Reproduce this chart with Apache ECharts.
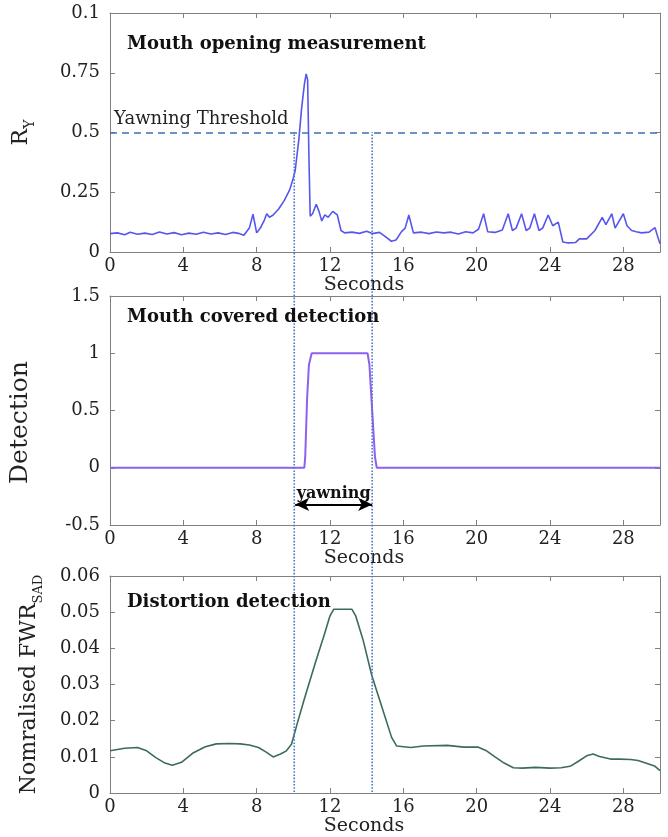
<!DOCTYPE html>
<html>
<head>
<meta charset="utf-8">
<script src="https://cdn.jsdelivr.net/npm/echarts@6/dist/echarts.min.js"></script>
<style>
  html, body { margin: 0; padding: 0; background: #fff; }
  #chart { width: 668px; height: 837px; }
</style>
</head>
<body>
<div id="chart"></div>
<script>
// mouth opening ratio R_Y over time
const mouthT = [0, 0.4, 0.8, 1.1, 1.5, 1.9, 2.3, 2.7, 3.1, 3.5, 3.9, 4.3, 4.7, 5.1, 5.5, 5.9, 6.3, 6.7, 7.0, 7.3,
  7.6, 7.8, 8.0, 8.2, 8.4, 8.55, 8.7, 8.9, 9.2, 9.5, 9.8, 10.0, 10.1, 10.3, 10.45, 10.6, 10.7, 10.78, 10.85, 10.92,
  11.05, 11.25, 11.4, 11.55, 11.72, 11.9, 12.15, 12.4, 12.6, 12.8, 13.2, 13.6, 14.0, 14.3, 14.7, 15.0, 15.35, 15.6,
  15.9, 16.1, 16.3, 16.55, 17.0, 17.4, 17.8, 18.2, 18.6, 19.0, 19.4, 19.8, 20.1, 20.38, 20.6, 21.0, 21.4, 21.72,
  21.95, 22.15, 22.45, 22.7, 22.9, 23.15, 23.4, 23.6, 23.9, 24.15, 24.45, 24.7, 25.0, 25.4, 25.6, 26.0, 26.45,
  26.85, 27.05, 27.37, 27.55, 28.0, 28.2, 28.45, 28.7, 29.0, 29.4, 29.73, 29.85, 30];
const mouthR = [0.077, 0.08, 0.072, 0.083, 0.074, 0.079, 0.073, 0.084, 0.075, 0.081, 0.072, 0.079, 0.074, 0.083, 0.075, 0.08, 0.073, 0.082, 0.078, 0.07,
  0.1, 0.158, 0.08, 0.1, 0.13, 0.16, 0.145, 0.155, 0.18, 0.215, 0.26, 0.31, 0.34, 0.47, 0.6, 0.7, 0.745, 0.72, 0.4, 0.15,
  0.16, 0.2, 0.17, 0.13, 0.155, 0.145, 0.17, 0.155, 0.09, 0.08, 0.083, 0.078, 0.087, 0.077, 0.082, 0.065, 0.045, 0.05,
  0.085, 0.1, 0.155, 0.08, 0.083, 0.077, 0.084, 0.08, 0.083, 0.075, 0.085, 0.08, 0.095, 0.16, 0.085, 0.082, 0.092, 0.16,
  0.09, 0.1, 0.16, 0.09, 0.1, 0.16, 0.09, 0.1, 0.155, 0.11, 0.125, 0.042, 0.038, 0.04, 0.055, 0.055, 0.09,
  0.145, 0.115, 0.16, 0.1, 0.16, 0.11, 0.09, 0.085, 0.08, 0.083, 0.102, 0.07, 0.035];
const ryTickLabels = ['0', '0.25', '0.5', '0.75', '0.1'];
const threshold = 0.5;

// mouth covered detection (0 / 1)
const coverT = [0, 10.6, 10.65, 10.75, 10.85, 11.0, 14.05, 14.15, 14.3, 14.45, 14.55, 30];
const coverD = [0, 0, 0.1, 0.6, 0.9, 1, 1, 0.9, 0.5, 0.1, 0, 0];

// normalised FWR_SAD distortion
const distT = [0, 0.8, 1.5, 2.0, 2.5, 3.0, 3.4, 3.9, 4.5, 5.2, 5.8, 6.5, 7.1, 7.6, 8.1, 8.5, 8.9, 9.3, 9.6, 9.9,
  10.2, 10.6, 11.2, 11.7, 12.0, 12.2, 13.2, 13.4, 13.8, 14.28, 14.73, 15.36, 15.64, 16.4, 17.1, 18.4, 19.3, 20.1,
  20.5, 21.0, 21.5, 22.0, 22.5, 23.2, 24.0, 24.6, 25.1, 25.55, 26.0, 26.35, 26.7, 27.3, 27.8, 28.4, 28.8, 29.3, 29.7, 30];
const distV = [0.0117, 0.0124, 0.0126, 0.0117, 0.0098, 0.0083, 0.0077, 0.0085, 0.011, 0.0128, 0.0136, 0.0137, 0.0136, 0.0133, 0.0126, 0.0114, 0.0100, 0.0108, 0.0116, 0.0135,
  0.019, 0.026, 0.036, 0.044, 0.049, 0.0508, 0.0508, 0.049, 0.0424, 0.0325, 0.0254, 0.0154, 0.013, 0.0126, 0.013, 0.0132, 0.0127, 0.0127,
  0.0118, 0.0100, 0.0083, 0.0070, 0.0069, 0.0071, 0.0069, 0.007, 0.0074, 0.0088, 0.0103, 0.0108, 0.0101, 0.0094, 0.0094, 0.0093, 0.0090, 0.0082, 0.0075, 0.0062];

// yawning interval (seconds)
const yawnStart = 10.05;
const yawnEnd = 14.3;
const arrowLevel = -0.32;

const zip = (xs, ys) => xs.map((x, i) => [x, ys[i]]);

const FONT = 'DejaVu Serif';
const frameColor = '#808080';
const labelColor = '#222';

function xBottom(g) {
  return {
    type: 'value', gridIndex: g, min: 0, max: 30, interval: 4,
    name: 'Seconds', nameLocation: 'middle', nameGap: 22,
    nameTextStyle: { fontFamily: FONT, fontSize: 19, color: labelColor, padding: [0, 42, 0, 0] },
    axisLine: { show: true, onZero: false, lineStyle: { color: frameColor, width: 1 } },
    axisTick: { show: true, inside: true, length: 5, lineStyle: { color: frameColor } },
    axisLabel: { fontFamily: FONT, fontSize: 18, color: labelColor, margin: 5, showMaxLabel: false },
    splitLine: { show: false }
  };
}
function xTop(g) {
  return {
    type: 'value', gridIndex: g, position: 'top', min: 0, max: 30, interval: 4,
    axisLine: { show: true, onZero: false, lineStyle: { color: frameColor, width: 1 } },
    axisTick: { show: true, inside: true, length: 5, lineStyle: { color: frameColor } },
    axisLabel: { show: false }, splitLine: { show: false }
  };
}
function yLeft(g, min, max, interval, name, rich, gap, formatter) {
  return {
    type: 'value', gridIndex: g, min: min, max: max, interval: interval,
    name: name, nameLocation: 'middle', nameGap: gap, nameRotate: 90,
    nameTextStyle: { fontFamily: FONT, color: labelColor, rich: rich },
    axisLine: { show: true, onZero: false, lineStyle: { color: frameColor, width: 1 } },
    axisTick: { show: true, inside: true, length: 5, lineStyle: { color: frameColor } },
    axisLabel: { fontFamily: FONT, fontSize: 18, color: labelColor, margin: 10, formatter: formatter },
    splitLine: { show: false }
  };
}
function yRight(g, min, max, interval) {
  return {
    type: 'value', gridIndex: g, position: 'right', min: min, max: max, interval: interval,
    axisLine: { show: true, onZero: false, lineStyle: { color: frameColor, width: 1 } },
    axisTick: { show: true, inside: true, length: 5, lineStyle: { color: frameColor } },
    axisLabel: { show: false }, splitLine: { show: false }
  };
}

const titleStyle = { fontFamily: FONT, fontSize: 18, fontWeight: 'bold', color: '#111' };

const chart = echarts.init(document.getElementById('chart'), null, { renderer: 'canvas' });

const option = {
  backgroundColor: '#fff',
  animation: false,
  title: [
    { text: 'Mouth opening measurement', left: 122, top: 30, textStyle: titleStyle },
    { text: 'Mouth covered detection', left: 122, top: 303, textStyle: titleStyle },
    { text: 'Distortion detection', left: 122, top: 588, textStyle: titleStyle }
  ],
  grid: [
    { left: 110, right: 8, top: 13, height: 239 },
    { left: 110, right: 8, top: 296, height: 229 },
    { left: 110, right: 8, top: 576, height: 221 },
    { left: 110, right: 8, top: 132, height: 660 }
  ],
  xAxis: [
    xBottom(0), xTop(0),
    xBottom(1), xTop(1),
    xBottom(2), xTop(2),
    { type: 'value', gridIndex: 3, min: 0, max: 30, show: false }
  ],
  yAxis: [
    yLeft(0, 0, 1, 0.25, '{r|R}{s|Y}', {
      r: { fontFamily: FONT, fontSize: 22, color: labelColor, verticalAlign: 'bottom', padding: [0, 0, 5, 0] },
      s: { fontFamily: FONT, fontSize: 14, color: labelColor, verticalAlign: 'bottom' }
    }, 73, (v, i) => ryTickLabels[i]),
    yRight(0, 0, 1, 0.25),
    yLeft(1, -0.5, 1.5, 0.5, '{d|Detection}', {
      d: { fontFamily: FONT, fontSize: 25, color: labelColor, padding: [0, 24, 0, 0] }
    }, 77),
    yRight(1, -0.5, 1.5, 0.5),
    yLeft(2, 0, 0.06, 0.01, '{r|Nomralised FWR}{s|SAD}', {
      r: { fontFamily: FONT, fontSize: 22, color: labelColor, verticalAlign: 'bottom', padding: [0, 0, 5, 0] },
      s: { fontFamily: FONT, fontSize: 13, color: labelColor, verticalAlign: 'bottom' }
    }, 65),
    yRight(2, 0, 0.06, 0.01),
    { type: 'value', gridIndex: 3, min: 0, max: 1, show: false }
  ],
  series: [
    {
      type: 'line', xAxisIndex: 0, yAxisIndex: 0, data: zip(mouthT, mouthR),
      symbol: 'none', lineStyle: { color: '#5656ee', width: 1.6 },
      markLine: {
        silent: true, symbol: 'none',
        lineStyle: { type: [7, 5], color: '#3f6fb4', width: 1.6 },
        label: {
          show: true, position: 'insideStartTop', formatter: 'Yawning Threshold',
          fontFamily: FONT, fontSize: 18, color: labelColor, distance: 4
        },
        data: [{ yAxis: threshold }]
      }
    },
    {
      type: 'line', xAxisIndex: 2, yAxisIndex: 2, data: zip(coverT, coverD),
      symbol: 'none', lineStyle: { color: '#8f5ff0', width: 2 },
      markLine: {
        silent: true, symbol: ['arrow', 'arrow'], symbolSize: [10, 14],
        lineStyle: { type: 'solid', color: '#000', width: 2 },
        label: {
          show: true, position: 'middle', formatter: 'yawning',
          fontFamily: FONT, fontSize: 16, fontWeight: 'bold', color: '#111', distance: 3
        },
        data: [[{ coord: [yawnStart + 0.05, arrowLevel] }, { coord: [yawnEnd, arrowLevel] }]]
      }
    },
    {
      type: 'line', xAxisIndex: 4, yAxisIndex: 4, data: zip(distT, distV),
      symbol: 'none', smooth: false,
      lineStyle: { color: '#3b6b5b', width: 1.6 }
    },
    {
      type: 'line', xAxisIndex: 6, yAxisIndex: 6, data: [[yawnStart, 0], [yawnStart, 1]],
      symbol: 'none', silent: true, lineStyle: { type: 'dotted', color: '#4a7bc8', width: 1.6 }
    },
    {
      type: 'line', xAxisIndex: 6, yAxisIndex: 6, data: [[yawnEnd, 0], [yawnEnd, 1]],
      symbol: 'none', silent: true, lineStyle: { type: 'dotted', color: '#4a7bc8', width: 1.6 }
    }
  ]
};

chart.setOption(option);
</script>
</body>
</html>
